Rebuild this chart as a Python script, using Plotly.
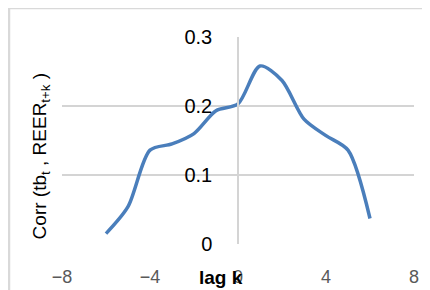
import plotly.graph_objects as go

lags = [-6, -5, -4, -3, -2, -1, 0, 1, 2, 3, 4, 5, 6]
corr = [0.015, 0.054, 0.136, 0.145, 0.160, 0.193, 0.203, 0.258, 0.237, 0.181, 0.157, 0.136, 0.037]
x_ticks = [-8, -4, 0, 4, 8]
y_ticks = [0, 0.1, 0.2, 0.3]

fig = go.Figure()
fig.add_trace(go.Scatter(
    x=lags, y=corr, mode="lines",
    line=dict(color="#4A7EBB", width=3.5, shape="spline", smoothing=0.8),
    hoverinfo="skip", showlegend=False,
))

font_family = "Liberation Sans, Arial, sans-serif"

fig.update_layout(
    width=430, height=290,
    margin=dict(l=54, r=24, t=29, b=54, autoexpand=False),
    paper_bgcolor="white", plot_bgcolor="white",
    font=dict(family=font_family, size=16, color="#000000"),
    xaxis=dict(
        range=[-8, 8], tickvals=x_ticks, showgrid=False, zeroline=False,
        showline=False, ticks="", tickfont=dict(color="#595959", size=18),
        ticklabelstandoff=20, automargin=False,
    ),
    yaxis=dict(
        range=[0, 0.3], tickvals=y_ticks, ticktext=["0", "0.1", "0.2", "0.3"],
        showgrid=True, gridcolor="#D4D4D4", gridwidth=1.5, zeroline=False,
        anchor="free", position=0.5, showline=True, linecolor="#D4D4D4", linewidth=1.5,
        ticks="", tickfont=dict(color="#000000", size=20), ticklabelstandoff=21,
        automargin=False,
    ),
    shapes=[dict(
        type="rect", xref="paper", yref="paper",
        x0=-0.1506, x1=1.2, y0=-0.4, y1=1.14,
        line=dict(color="#D9D9D9", width=2.5), fillcolor="rgba(0,0,0,0)", layer="below",
    )],
    annotations=[
        dict(text="<b>lag k</b>", xref="paper", yref="paper", x=0.452, y=-0.164,
             xanchor="center", yanchor="middle", showarrow=False,
             font=dict(size=19, color="#000000")),
        dict(text="Corr (tb<sub>t</sub> , REER<sub>t+k</sub> )", xref="paper", yref="paper",
             x=-0.057, y=0.423, xanchor="center", yanchor="middle", textangle=-90,
             showarrow=False, font=dict(size=19, color="#000000")),
    ],
)

fig.write_html("out.html")
